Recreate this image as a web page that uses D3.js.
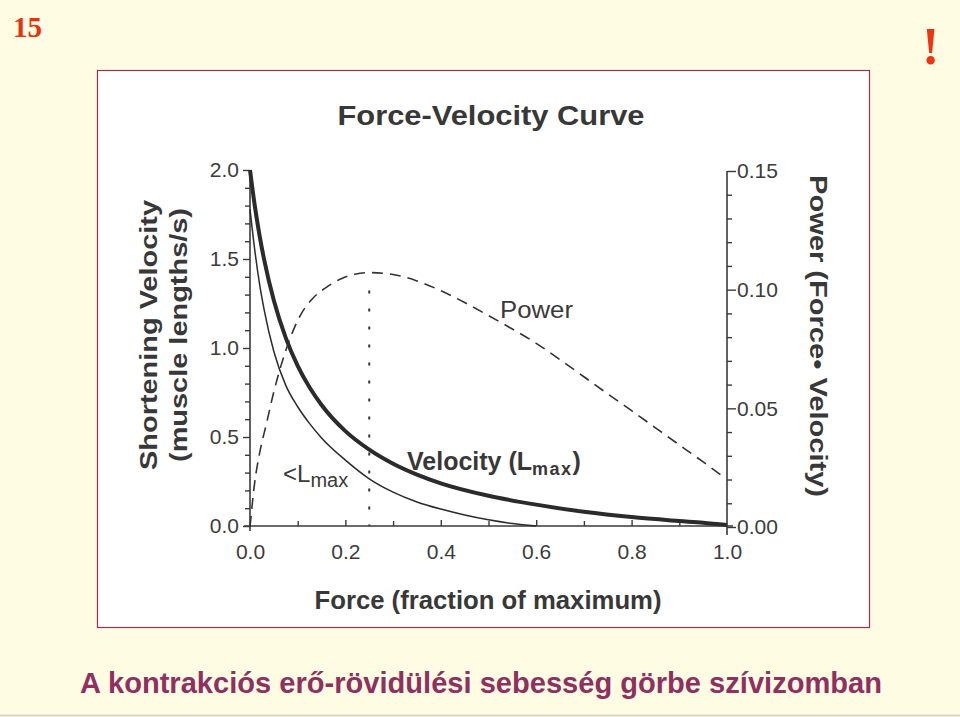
<!DOCTYPE html>
<html><head><meta charset="utf-8">
<script src="https://cdn.jsdelivr.net/npm/d3@7"></script>
<style>
html,body{margin:0;padding:0;background:#FFFCE4;}
svg{display:block;}
</style></head>
<body>
<script>
// ---- data ----
const forceGrid = [0, 0.01, 0.02, 0.03, 0.05, 0.075, 0.1, 0.125, 0.15, 0.2, 0.25, 0.3, 0.35, 0.4, 0.5, 0.6, 0.7, 0.8, 0.9, 0.95, 1.0];
const velocityLmax = [2.0, 1.8, 1.633, 1.492, 1.267, 1.057, 0.9, 0.778, 0.68, 0.533, 0.429, 0.35, 0.289, 0.24, 0.17, 0.12, 0.08, 0.05, 0.028, 0.018, 0.005];
const forceShort = [0, 0.01, 0.02, 0.03, 0.05, 0.075, 0.1, 0.125, 0.15, 0.2, 0.25, 0.3, 0.35, 0.4, 0.45, 0.5, 0.55, 0.6];
const velocityShort = [1.78, 1.55, 1.36, 1.21, 0.98, 0.79, 0.67, 0.575, 0.495, 0.37, 0.265, 0.19, 0.135, 0.095, 0.062, 0.035, 0.014, 0];
const forcePower = [0, 0.01, 0.02, 0.035, 0.05, 0.065, 0.085, 0.105, 0.13, 0.16, 0.19, 0.22, 0.25, 0.3, 0.35, 0.4, 0.45, 0.5, 0.55, 0.6, 0.65, 0.7, 0.75, 0.8, 0.85, 0.9, 0.95, 0.99];
const powerValues = [0.0, 0.019, 0.031, 0.044, 0.057, 0.068, 0.080, 0.089, 0.096, 0.101, 0.1045, 0.1065, 0.1072, 0.1064, 0.1037, 0.0996, 0.0946, 0.0891, 0.0834, 0.0774, 0.0705, 0.0633, 0.0561, 0.0490, 0.0418, 0.0346, 0.0274, 0.0215];
const peakForce = 0.25;
const xMajorTicks = [0, 0.2, 0.4, 0.6, 0.8, 1.0];
const xMinorTicks = [0.1, 0.3, 0.5, 0.7, 0.9];
const yLeftMajor = [0, 0.5, 1.0, 1.5, 2.0];
const yLeftMinor = [0.1,0.2,0.3,0.4,0.6,0.7,0.8,0.9,1.1,1.2,1.3,1.4,1.6,1.7,1.8,1.9];
const yRightMajor = [0, 0.05, 0.10, 0.15];
const yRightMinor = [0.01,0.02,0.03,0.04,0.06,0.07,0.08,0.09,0.11,0.12,0.13,0.14];

const W = 960, H = 717;
const SANS = "\"Liberation Sans\",Arial,sans-serif";
const SERIF = "\"Liberation Serif\",\"Times New Roman\",serif";
const svg = d3.select("body").append("svg").attr("width", W).attr("height", H).attr("font-family", SANS);

// slide background
svg.append("rect").attr("width", W).attr("height", H).attr("fill", "#FFFCE4");
svg.append("line").attr("x1", 0).attr("x2", W).attr("y1", 715.5).attr("y2", 715.5).attr("stroke", "#d8d6c6").attr("stroke-width", 2);

// white panel
svg.append("rect").attr("x", 97.5).attr("y", 70.5).attr("width", 772).attr("height", 557)
  .attr("fill", "#ffffff").attr("stroke", "#9C2F55").attr("stroke-width", 1.2);

// scales
const x = d3.scaleLinear().domain([0, 1]).range([250, 727]);
const yL = d3.scaleLinear().domain([0, 2]).range([526, 170]);
const yR = d3.scaleLinear().domain([0, 0.15]).range([527, 171]);

const ink = "#2b2b2b";
const axisInk = "#3a3a3a";

function styleAxis(g){
  g.attr("font-family", SANS);
  g.selectAll("path.domain").attr("stroke", axisInk).attr("stroke-width", 1.6);
  g.selectAll(".tick line").attr("stroke", axisInk).attr("stroke-width", 1.4);
  g.selectAll(".tick text").attr("fill", "#3c3c3c").attr("font-size", 21).attr("font-family", SANS);
}

// left axis
const gL = svg.append("g").attr("transform", "translate(250,0)");
gL.call(d3.axisLeft(yL).tickValues(yLeftMajor).tickSize(7).tickSizeOuter(0).tickPadding(4).tickFormat(d3.format(".1f")));
styleAxis(gL);
gL.select("path.domain").attr("d", "M0,170V531");
const gLm = svg.append("g").attr("transform", "translate(250,0)");
gLm.call(d3.axisLeft(yL).tickValues(yLeftMinor).tickSize(5).tickFormat(""));
gLm.select("path.domain").remove();
styleAxis(gLm);

// right axis
const gR = svg.append("g").attr("transform", "translate(727,0)");
gR.call(d3.axisRight(yR).tickValues(yRightMajor).tickSize(9).tickSizeOuter(0).tickPadding(1).tickFormat(d3.format(".2f")));
styleAxis(gR);
gR.select("path.domain").attr("d", "M0,171V535");
const gRm = svg.append("g").attr("transform", "translate(727,0)");
gRm.call(d3.axisRight(yR).tickValues(yRightMinor).tickSize(5).tickFormat(""));
gRm.select("path.domain").remove();
styleAxis(gRm);

// bottom axis (ticks pointing up)
const gX = svg.append("g").attr("transform", "translate(0,526)");
gX.call(d3.axisBottom(x).tickValues(xMajorTicks).tickSize(-6).tickSizeOuter(0).tickPadding(18).tickFormat(d3.format(".1f")));
styleAxis(gX);
gX.select("path.domain").attr("d", "M244,0H733");
gX.selectAll(".tick line").filter(d => d === 0 || d === 1).remove();
const gXm = svg.append("g").attr("transform", "translate(0,526)");
gXm.call(d3.axisBottom(x).tickValues(xMinorTicks).tickSize(-5).tickFormat(""));
gXm.select("path.domain").remove();
styleAxis(gXm);

// curves
const lineV = d3.line().x(d => x(d[0])).y(d => yL(d[1])).curve(d3.curveMonotoneX);
const lineP = d3.line().x(d => x(d[0])).y(d => yR(d[1])).curve(d3.curveMonotoneX);

svg.append("path").datum(forceShort.map((f, i) => [f, velocityShort[i]]))
  .attr("d", lineV).attr("fill", "none").attr("stroke", ink).attr("stroke-width", 1.5);
svg.append("path").datum(forceGrid.map((f, i) => [f, velocityLmax[i]]))
  .attr("d", lineV).attr("fill", "none").attr("stroke", ink).attr("stroke-width", 4);
svg.append("path").datum(forcePower.map((f, i) => [f, powerValues[i]]))
  .attr("d", lineP).attr("fill", "none").attr("stroke", "#333").attr("stroke-width", 1.6)
  .attr("stroke-dasharray", "11,7");

// dotted vertical line at peak power
const peakPower = d3.max(powerValues);
svg.append("line").attr("x1", x(peakForce)).attr("x2", x(peakForce))
  .attr("y1", yR(peakPower) + 18).attr("y2", yL(0))
  .attr("stroke", "#333").attr("stroke-width", 2).attr("stroke-dasharray", "3,15");

// texts
svg.append("text").attr("x", 491).attr("y", 125).attr("text-anchor", "middle")
  .attr("font-size", 28).attr("font-weight", "bold").attr("fill", "#383838")
  .attr("textLength", 307).attr("lengthAdjust", "spacingAndGlyphs")
  .text("Force-Velocity Curve");

svg.append("text").attr("x", 488).attr("y", 609).attr("text-anchor", "middle")
  .attr("font-size", 25).attr("font-weight", "bold").attr("fill", "#383838")
  .attr("textLength", 347).attr("lengthAdjust", "spacingAndGlyphs")
  .text("Force (fraction of maximum)");

svg.append("text").attr("transform", "translate(157,335) rotate(-90)").attr("text-anchor", "middle")
  .attr("font-size", 24).attr("font-weight", "bold").attr("fill", "#383838")
  .attr("textLength", 270).attr("lengthAdjust", "spacingAndGlyphs")
  .text("Shortening Velocity");
svg.append("text").attr("transform", "translate(187,335) rotate(-90)").attr("text-anchor", "middle")
  .attr("font-size", 24).attr("font-weight", "bold").attr("fill", "#383838")
  .attr("textLength", 254).attr("lengthAdjust", "spacingAndGlyphs")
  .text("(muscle lengths/s)");

svg.append("text").attr("transform", "translate(810,336) rotate(90)").attr("text-anchor", "middle")
  .attr("font-size", 24).attr("font-weight", "bold").attr("fill", "#383838")
  .attr("textLength", 322).attr("lengthAdjust", "spacingAndGlyphs")
  .text("Power (Force\u2022 Velocity)");

svg.append("text").attr("x", 500).attr("y", 318)
  .attr("font-size", 23).attr("fill", "#3a3a3a")
  .attr("textLength", 73).attr("lengthAdjust", "spacingAndGlyphs")
  .text("Power");

const tV = svg.append("text").attr("x", 407).attr("y", 470).attr("fill", "#383838").attr("font-weight", "bold");
tV.append("tspan").attr("font-size", 25).text("Velocity (L");
tV.append("tspan").attr("font-size", 18).attr("dy", 5).attr("letter-spacing", 1.5).text("max");
tV.append("tspan").attr("font-size", 25).attr("dy", -5).text(")");

const tL = svg.append("text").attr("x", 283).attr("y", 482).attr("fill", "#3a3a3a");
tL.append("tspan").attr("font-size", 24).text("<L");
tL.append("tspan").attr("font-size", 20).attr("dy", 5).text("max");

// slide decorations
svg.append("text").attr("x", 13).attr("y", 37).attr("font-family", SERIF)
  .attr("font-size", 29).attr("font-weight", "bold").attr("fill", "#E8320E").text("15");
svg.append("text").attr("x", 922).attr("y", 64).attr("font-family", SERIF)
  .attr("font-size", 52).attr("font-weight", "bold").attr("fill", "#F0340F").text("!");

svg.append("text").attr("x", 80).attr("y", 693)
  .attr("font-size", 30).attr("font-weight", "bold").attr("fill", "#8E3060")
  .attr("textLength", 802).attr("lengthAdjust", "spacingAndGlyphs")
  .text("A kontrakciós erő-rövidülési sebesség görbe szívizomban");
</script>
</body></html>
